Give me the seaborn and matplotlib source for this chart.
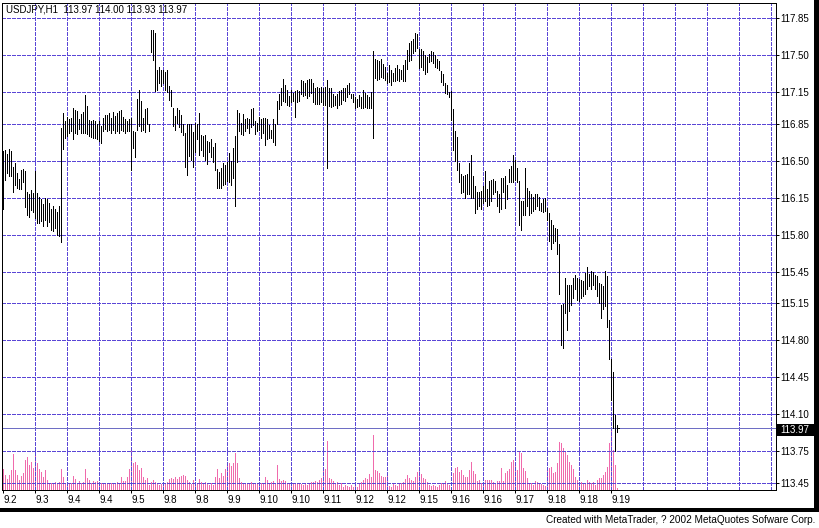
import numpy as np
import pandas as pd
import seaborn as sns
import matplotlib.pyplot as plt
from matplotlib.patches import Rectangle

# chart data (USDJPY, hourly bars)
symbol = 'USDJPY,H1'
last_ohlc = [113.97, 114.00, 113.93, 113.97]

high = [
    116.59, 116.60, 116.56, 116.61, 116.59, 116.44, 116.48, 116.38, 116.33, 116.41,
    116.42, 116.40, 116.20, 116.18, 116.22, 116.19, 116.40, 116.19, 116.16, 116.14,
    116.09, 116.15, 116.14, 116.10, 116.04, 116.07, 116.04, 116.01, 116.07, 116.81,
    116.95, 116.87, 116.91, 116.89, 116.90, 117.00, 116.98, 116.97, 116.89, 116.94,
    116.96, 117.12, 117.02, 116.88, 116.87, 116.88, 116.87, 116.85, 116.87, 116.83,
    116.90, 116.93, 116.93, 116.95, 116.90, 116.96, 116.92, 116.95, 116.97, 116.98,
    116.91, 116.89, 116.87, 116.89, 116.90, 116.78, 116.77, 117.08, 117.17, 117.06,
    116.90, 116.99, 117.00, 116.85, 117.74, 117.74, 117.71, 117.36, 117.39, 117.36,
    117.36, 117.34, 117.36, 117.21, 117.17, 117.00, 116.92, 117.00, 116.98, 116.93,
    116.85, 116.76, 116.85, 116.85, 116.85, 116.77, 116.86, 116.85, 116.95, 116.74,
    116.73, 116.74, 116.69, 116.68, 116.70, 116.63, 116.67, 116.42, 116.39, 116.43,
    116.48, 116.46, 116.49, 116.57, 116.50, 116.62, 116.73, 116.98, 116.95, 116.86,
    116.94, 116.89, 116.90, 116.89, 116.99, 117.00, 116.87, 116.86, 116.91, 116.89,
    116.90, 116.90, 116.89, 116.84, 116.79, 116.89, 116.85, 117.06, 117.13, 117.19,
    117.27, 117.22, 117.17, 117.11, 117.17, 117.14, 117.16, 117.17, 117.16, 117.26,
    117.25, 117.23, 117.26, 117.27, 117.27, 117.23, 117.19, 117.20, 117.19, 117.20,
    117.19, 117.20, 117.26, 117.19, 117.19, 117.13, 117.11, 117.13, 117.16, 117.17,
    117.19, 117.19, 117.22, 117.23, 117.13, 117.13, 117.10, 117.08, 117.12, 117.10,
    117.17, 117.14, 117.12, 117.10, 117.15, 117.54, 117.46, 117.45, 117.44, 117.46,
    117.41, 117.39, 117.33, 117.40, 117.36, 117.33, 117.38, 117.40, 117.37, 117.36,
    117.40, 117.45, 117.55, 117.61, 117.63, 117.65, 117.71, 117.70, 117.56, 117.56,
    117.54, 117.50, 117.48, 117.51, 117.54, 117.53, 117.50, 117.46, 117.44, 117.35,
    117.32, 117.23, 117.22, 117.15, 117.16, 116.99, 116.78, 116.72, 116.48, 116.37,
    116.35, 116.36, 116.37, 116.48, 116.55, 116.35, 116.26, 116.20, 116.20, 116.21,
    116.26, 116.40, 116.23, 116.31, 116.32, 116.33, 116.31, 116.21, 116.18, 116.34,
    116.34, 116.35, 116.27, 116.42, 116.45, 116.55, 116.51, 116.43, 116.31, 116.12,
    116.12, 116.43, 116.24, 116.21, 116.18, 116.16, 116.18, 116.18, 116.16, 116.10,
    116.14, 116.15, 116.05, 116.00, 115.94, 115.89, 115.86, 115.85, 115.71, 115.13,
    115.14, 115.39, 115.32, 115.32, 115.32, 115.39, 115.42, 115.39, 115.38, 115.37,
    115.36, 115.44, 115.49, 115.43, 115.46, 115.45, 115.42, 115.41, 115.34, 115.33,
    115.31, 115.46, 115.41, 114.99, 114.62, 114.50, 114.09, 114.00,
]

low = [
    116.04, 116.32, 116.38, 116.35, 116.35, 116.20, 116.27, 116.24, 116.23, 116.23,
    116.30, 116.06, 115.99, 115.97, 116.03, 116.01, 115.96, 115.91, 115.91, 115.93,
    115.88, 115.94, 115.88, 115.92, 115.84, 115.83, 115.86, 115.80, 115.79, 115.73,
    116.61, 116.71, 116.73, 116.76, 116.78, 116.70, 116.76, 116.75, 116.80, 116.76,
    116.76, 116.76, 116.75, 116.73, 116.72, 116.71, 116.71, 116.70, 116.69, 116.67,
    116.78, 116.80, 116.78, 116.79, 116.76, 116.79, 116.76, 116.78, 116.76, 116.79,
    116.78, 116.76, 116.78, 116.78, 116.41, 116.62, 116.53, 116.79, 116.83, 116.78,
    116.79, 116.77, 116.85, 116.78, 117.53, 117.45, 117.16, 117.17, 117.23, 117.21,
    117.23, 117.17, 117.15, 117.07, 117.02, 116.83, 116.79, 116.86, 116.82, 116.77,
    116.74, 116.44, 116.36, 116.54, 116.51, 116.44, 116.58, 116.70, 116.55, 116.60,
    116.54, 116.51, 116.47, 116.58, 116.53, 116.49, 116.41, 116.24, 116.24, 116.24,
    116.27, 116.28, 116.31, 116.30, 116.27, 116.34, 116.07, 116.49, 116.78, 116.75,
    116.74, 116.78, 116.81, 116.76, 116.82, 116.84, 116.75, 116.78, 116.79, 116.71,
    116.76, 116.65, 116.70, 116.71, 116.71, 116.68, 116.65, 116.85, 116.99, 117.03,
    117.06, 117.05, 117.03, 117.02, 117.05, 117.06, 116.91, 117.05, 117.06, 117.13,
    117.11, 117.12, 117.09, 117.11, 117.14, 117.05, 117.04, 117.04, 117.04, 117.05,
    117.03, 117.03, 116.43, 117.02, 117.01, 117.02, 117.03, 117.00, 117.03, 117.04,
    117.07, 117.06, 117.10, 117.13, 117.09, 117.05, 117.00, 117.01, 117.02, 117.00,
    117.00, 117.01, 117.00, 117.00, 117.00, 116.71, 117.28, 117.26, 117.27, 117.29,
    117.28, 117.26, 117.23, 117.24, 117.22, 117.25, 117.25, 117.26, 117.25, 117.27,
    117.25, 117.25, 117.37, 117.44, 117.45, 117.52, 117.54, 117.57, 117.38, 117.39,
    117.36, 117.32, 117.34, 117.43, 117.44, 117.42, 117.39, 117.38, 117.36, 117.24,
    117.22, 117.14, 117.13, 117.10, 116.88, 116.60, 116.50, 116.41, 116.30, 116.19,
    116.20, 116.15, 116.18, 116.18, 116.15, 116.15, 116.00, 116.04, 116.07, 116.04,
    116.10, 116.12, 116.07, 116.08, 116.12, 116.18, 116.20, 116.07, 116.01, 116.04,
    116.20, 116.05, 116.14, 116.30, 116.30, 116.30, 116.32, 116.30, 115.89, 115.84,
    115.99, 115.99, 116.07, 115.99, 116.00, 116.02, 116.04, 116.07, 116.03, 116.02,
    116.01, 116.02, 115.94, 115.74, 115.66, 115.72, 115.74, 115.62, 115.24, 114.76,
    114.73, 115.06, 114.90, 115.08, 115.13, 115.20, 115.29, 115.18, 115.17, 115.20,
    115.22, 115.24, 115.29, 115.31, 115.29, 115.32, 115.29, 115.22, 115.15, 115.01,
    115.10, 115.12, 114.93, 114.62, 114.24, 113.97, 113.75, 113.93,
]

tick_volume = [
    21, 15, 11, 15, 20, 36, 20, 15, 10, 14,
    17, 30, 33, 25, 28, 22, 37, 27, 21, 18,
    13, 20, 10, 7, 7, 7, 8, 7, 8, 21,
    13, 7, 8, 6, 7, 14, 11, 7, 9, 7,
    8, 21, 12, 10, 7, 9, 8, 9, 5, 7,
    7, 7, 7, 6, 7, 7, 6, 8, 7, 13,
    9, 9, 13, 21, 43, 27, 28, 25, 20, 22,
    13, 10, 12, 5, 8, 10, 8, 7, 5, 6,
    5, 6, 8, 11, 12, 11, 13, 11, 13, 14,
    15, 14, 10, 8, 6, 10, 6, 7, 11, 8,
    7, 8, 6, 5, 7, 5, 13, 21, 12, 17,
    14, 21, 25, 27, 24, 27, 37, 27, 12, 8,
    6, 7, 6, 7, 8, 6, 7, 6, 7, 7,
    7, 13, 10, 7, 8, 9, 7, 25, 11, 9,
    10, 9, 7, 6, 6, 7, 7, 6, 6, 6,
    5, 6, 5, 7, 8, 8, 9, 8, 10, 12,
    22, 21, 49, 12, 11, 9, 7, 8, 5, 7,
    3, 5, 4, 3, 5, 3, 7, 3, 7, 8,
    10, 12, 11, 16, 13, 55, 20, 19, 17, 14,
    13, 13, 14, 4, 3, 6, 5, 4, 6, 7,
    8, 11, 15, 12, 10, 9, 13, 18, 20, 16,
    12, 11, 8, 5, 4, 5, 4, 3, 5, 7,
    6, 9, 6, 5, 3, 17, 22, 23, 18, 20,
    15, 13, 13, 20, 28, 19, 16, 9, 10, 7,
    6, 10, 10, 10, 10, 8, 6, 9, 9, 22,
    9, 17, 19, 21, 28, 30, 27, 20, 39, 37,
    22, 19, 12, 7, 7, 5, 9, 8, 7, 6,
    5, 4, 22, 22, 23, 17, 18, 27, 48, 47,
    42, 39, 35, 28, 25, 21, 13, 10, 7, 8,
    7, 7, 10, 8, 7, 8, 5, 10, 12, 12,
    15, 18, 23, 47, 60, 40, 25, 2,
]

date_labels = ['9.2', '9.3', '9.4', '9.4', '9.5', '9.8', '9.8', '9.9', '9.10', '9.10',
               '9.11', '9.12', '9.12', '9.15', '9.16', '9.16', '9.17', '9.18', '9.18', '9.19']
price_ticks = [113.45, 113.75, 114.10, 114.45, 114.80, 115.15, 115.45, 115.80,
               116.15, 116.50, 116.85, 117.15, 117.50, 117.85]

bars = pd.DataFrame({'high': high, 'low': low, 'volume': tick_volume})
bars['bar'] = np.arange(len(bars))

sns.set_style('white')
plt.rcParams['font.family'] = ['Liberation Sans', 'DejaVu Sans']

W, H = 819, 528
px = 72 / 100  # one pixel in points
grid_col = '#5a46d6'
vol_col = '#f06aac'
fs = 7

fig = plt.figure(figsize=(W / 100, H / 100), dpi=100, facecolor='white')
rect = [2 / W, (H - 490) / H, 774 / W, 487 / H]

# volume panel underneath the price bars
axv = fig.add_axes(rect, zorder=1)
sns.barplot(data=bars, x='bar', y='volume', native_scale=True, color=vol_col,
            width=0.5, errorbar=None, saturation=1, ax=axv,
            facecolor=vol_col, edgecolor=vol_col, linewidth=0, antialiased=False)
axv.set_xlim(-0.65, 386.35)
axv.set_ylim(0, 487)
axv.axis('off')

ax = fig.add_axes(rect, zorder=2)
ax.patch.set_alpha(0)
ax.set_xlim(-0.65, 386.35)
ax.set_ylim(113.384, 117.991)

# dotted grid
for k in range(16, 387, 16):
    ax.axvline(k, color=grid_col, lw=px, ls=(0, (3, 2)), antialiased=False, zorder=1)
for p in price_ticks:
    ax.axhline(p, color=grid_col, lw=px, ls=(0, (3, 2)), antialiased=False, zorder=1)

# current price line
ax.axhline(last_ohlc[3], color='#6e6ec4', lw=px, antialiased=False, zorder=1)

# high-low bars
ax.vlines(bars['bar'], bars['low'], bars['high'], colors='black', lw=px,
          antialiased=False, zorder=3)
n = len(bars) - 1
ax.hlines(last_ohlc[3], n, n + 0.9, colors='black', lw=px, antialiased=False, zorder=3)

ax.set_xticks(np.arange(0, 16 * len(date_labels), 16))
ax.set_xticklabels(date_labels, ha='left')
ax.yaxis.tick_right()
ax.set_yticks(price_ticks)
ax.set_yticklabels(['%.2f' % p for p in price_ticks])
ax.tick_params(axis='x', length=2.2, width=px, pad=1.5, labelsize=fs, colors='black', direction='out')
ax.tick_params(axis='y', length=2.2, width=px, pad=1.0, labelsize=fs, colors='black', direction='out')
ax.tick_params(axis='x', bottom=True)
ax.tick_params(axis='y', right=True, left=False)
for s in ax.spines.values():
    s.set_color('black')
    s.set_linewidth(px)

fig.text(6 / W, (H - 10) / H, '%s  %.2f %.2f %.2f %.2f' % (symbol, *last_ohlc),
         fontsize=fs, va='center', ha='left', color='black')

# window chrome: right border, bottom strip, price tag
fig.patches.append(Rectangle((814 / W, 16 / H), 5 / W, 512 / H, transform=fig.transFigure,
                             facecolor='black', edgecolor='none', zorder=5))
fig.patches.append(Rectangle((0, 16 / H), 1, 4 / H, transform=fig.transFigure,
                             facecolor='black', edgecolor='none', zorder=5))
fig.patches.append(Rectangle((777 / W, (H - 436) / H), 40 / W, 12 / H, transform=fig.transFigure,
                             facecolor='black', edgecolor='none', zorder=5))
fig.text(780 / W, (H - 430) / H, '%.2f' % last_ohlc[3], color='white', fontsize=fs,
         va='center', ha='left', zorder=6)
fig.text(815 / W, (H - 520) / H, 'Created with MetaTrader, ? 2002 MetaQuotes Sofware Corp.',
         fontsize=7.2, ha='right', va='center', color='black')

fig.savefig('out.png', dpi=100, facecolor='white')
